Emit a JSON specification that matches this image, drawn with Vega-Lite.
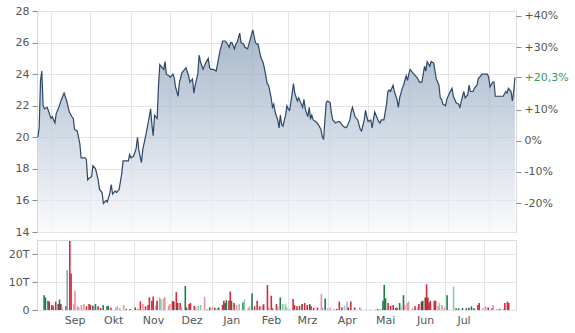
{
  "$schema": "https://vega.github.io/schema/vega-lite/v6.json",
  "padding": {"left": 7, "top": 4, "right": 0, "bottom": 0},
  "spacing": 1,
  "config": {
    "view": {"stroke": "#d6d9dd"},
    "axis": {"labelFont": "DejaVu Sans", "labelFontSize": 11, "labelColor": "#555555", "gridColor": "#e2e4e7", "tickColor": "#8a8a8a", "tickSize": 5, "labelPadding": 3, "domain": false, "title": null}
  },
  "datasets": {
    "price": [
      {"t": "2022-08-22", "p": 20.0}, {"t": "2022-08-23", "p": 20.6}, {"t": "2022-08-24", "p": 23.6}, {"t": "2022-08-25", "p": 24.2}, {"t": "2022-08-26", "p": 22.0}, {"t": "2022-08-27", "p": 21.8}, {"t": "2022-08-29", "p": 21.9}, {"t": "2022-08-30", "p": 21.7},
      {"t": "2022-09-01", "p": 21.2}, {"t": "2022-09-02", "p": 21.3}, {"t": "2022-09-04", "p": 20.9}, {"t": "2022-09-05", "p": 21.5}, {"t": "2022-09-07", "p": 21.9}, {"t": "2022-09-09", "p": 22.4}, {"t": "2022-09-11", "p": 22.8}, {"t": "2022-09-13", "p": 22.3}, {"t": "2022-09-15", "p": 21.6}, {"t": "2022-09-17", "p": 21.3}, {"t": "2022-09-18", "p": 21.2}, {"t": "2022-09-19", "p": 20.5}, {"t": "2022-09-21", "p": 20.4}, {"t": "2022-09-23", "p": 19.6}, {"t": "2022-09-24", "p": 18.7}, {"t": "2022-09-25", "p": 18.7}, {"t": "2022-09-27", "p": 18.7}, {"t": "2022-09-28", "p": 18.6}, {"t": "2022-09-29", "p": 17.3}, {"t": "2022-09-30", "p": 17.4},
      {"t": "2022-10-02", "p": 17.5}, {"t": "2022-10-03", "p": 18.2}, {"t": "2022-10-05", "p": 18.0}, {"t": "2022-10-07", "p": 17.3}, {"t": "2022-10-08", "p": 16.7}, {"t": "2022-10-10", "p": 16.5}, {"t": "2022-10-11", "p": 15.8}, {"t": "2022-10-13", "p": 16.0}, {"t": "2022-10-14", "p": 15.9}, {"t": "2022-10-16", "p": 16.5}, {"t": "2022-10-17", "p": 17.0}, {"t": "2022-10-18", "p": 16.4}, {"t": "2022-10-20", "p": 16.6}, {"t": "2022-10-21", "p": 16.5}, {"t": "2022-10-23", "p": 16.7}, {"t": "2022-10-25", "p": 17.7}, {"t": "2022-10-26", "p": 18.5}, {"t": "2022-10-28", "p": 18.5}, {"t": "2022-10-30", "p": 18.5}, {"t": "2022-10-31", "p": 18.9},
      {"t": "2022-11-01", "p": 18.7}, {"t": "2022-11-03", "p": 18.8}, {"t": "2022-11-05", "p": 19.3}, {"t": "2022-11-06", "p": 20.0}, {"t": "2022-11-07", "p": 19.2}, {"t": "2022-11-09", "p": 18.4}, {"t": "2022-11-10", "p": 19.2}, {"t": "2022-11-12", "p": 20.0}, {"t": "2022-11-13", "p": 20.4}, {"t": "2022-11-15", "p": 21.3}, {"t": "2022-11-16", "p": 21.8}, {"t": "2022-11-17", "p": 20.8}, {"t": "2022-11-18", "p": 20.1}, {"t": "2022-11-19", "p": 21.4}, {"t": "2022-11-20", "p": 21.3}, {"t": "2022-11-21", "p": 21.2}, {"t": "2022-11-22", "p": 23.2}, {"t": "2022-11-23", "p": 24.6}, {"t": "2022-11-25", "p": 24.4}, {"t": "2022-11-26", "p": 24.3}, {"t": "2022-11-27", "p": 24.8}, {"t": "2022-11-28", "p": 24.0}, {"t": "2022-11-30", "p": 23.9},
      {"t": "2022-12-01", "p": 23.8}, {"t": "2022-12-03", "p": 24.0}, {"t": "2022-12-04", "p": 23.8}, {"t": "2022-12-05", "p": 23.2}, {"t": "2022-12-07", "p": 22.6}, {"t": "2022-12-08", "p": 23.5}, {"t": "2022-12-10", "p": 24.1}, {"t": "2022-12-12", "p": 24.3}, {"t": "2022-12-13", "p": 24.4}, {"t": "2022-12-15", "p": 23.9}, {"t": "2022-12-16", "p": 23.5}, {"t": "2022-12-18", "p": 23.7}, {"t": "2022-12-19", "p": 22.8}, {"t": "2022-12-20", "p": 23.3}, {"t": "2022-12-22", "p": 24.0}, {"t": "2022-12-23", "p": 25.2}, {"t": "2022-12-24", "p": 24.8}, {"t": "2022-12-26", "p": 24.3}, {"t": "2022-12-28", "p": 24.7}, {"t": "2022-12-30", "p": 25.0}, {"t": "2022-12-31", "p": 24.4},
      {"t": "2023-01-01", "p": 24.3}, {"t": "2023-01-03", "p": 24.3}, {"t": "2023-01-05", "p": 24.2}, {"t": "2023-01-06", "p": 24.6}, {"t": "2023-01-08", "p": 25.5}, {"t": "2023-01-10", "p": 26.1}, {"t": "2023-01-12", "p": 26.1}, {"t": "2023-01-13", "p": 26.0}, {"t": "2023-01-15", "p": 25.7}, {"t": "2023-01-16", "p": 26.0}, {"t": "2023-01-17", "p": 26.0}, {"t": "2023-01-19", "p": 25.6}, {"t": "2023-01-20", "p": 25.9}, {"t": "2023-01-21", "p": 26.0}, {"t": "2023-01-23", "p": 26.6}, {"t": "2023-01-24", "p": 26.0}, {"t": "2023-01-26", "p": 25.9}, {"t": "2023-01-27", "p": 25.7}, {"t": "2023-01-29", "p": 25.6}, {"t": "2023-01-31", "p": 26.2},
      {"t": "2023-02-02", "p": 26.8}, {"t": "2023-02-04", "p": 26.0}, {"t": "2023-02-05", "p": 25.9}, {"t": "2023-02-06", "p": 25.9}, {"t": "2023-02-08", "p": 25.1}, {"t": "2023-02-10", "p": 24.7}, {"t": "2023-02-11", "p": 24.3}, {"t": "2023-02-13", "p": 23.4}, {"t": "2023-02-14", "p": 23.3}, {"t": "2023-02-16", "p": 22.5}, {"t": "2023-02-17", "p": 21.9}, {"t": "2023-02-18", "p": 22.1}, {"t": "2023-02-19", "p": 21.6}, {"t": "2023-02-21", "p": 21.1}, {"t": "2023-02-22", "p": 20.6}, {"t": "2023-02-23", "p": 21.4}, {"t": "2023-02-24", "p": 20.8}, {"t": "2023-02-25", "p": 20.7}, {"t": "2023-02-27", "p": 21.4}, {"t": "2023-02-28", "p": 22.0},
      {"t": "2023-03-01", "p": 21.8}, {"t": "2023-03-02", "p": 21.7}, {"t": "2023-03-03", "p": 22.2}, {"t": "2023-03-05", "p": 23.4}, {"t": "2023-03-06", "p": 22.8}, {"t": "2023-03-08", "p": 22.3}, {"t": "2023-03-09", "p": 22.5}, {"t": "2023-03-11", "p": 22.1}, {"t": "2023-03-12", "p": 21.9}, {"t": "2023-03-13", "p": 22.4}, {"t": "2023-03-14", "p": 21.8}, {"t": "2023-03-16", "p": 21.3}, {"t": "2023-03-17", "p": 21.9}, {"t": "2023-03-18", "p": 21.2}, {"t": "2023-03-19", "p": 21.4}, {"t": "2023-03-20", "p": 21.1}, {"t": "2023-03-22", "p": 21.0}, {"t": "2023-03-24", "p": 20.8}, {"t": "2023-03-26", "p": 20.5}, {"t": "2023-03-27", "p": 20.0}, {"t": "2023-03-28", "p": 19.9}, {"t": "2023-03-29", "p": 21.1}, {"t": "2023-03-30", "p": 22.2}, {"t": "2023-03-31", "p": 22.3},
      {"t": "2023-04-02", "p": 22.2}, {"t": "2023-04-03", "p": 21.5}, {"t": "2023-04-04", "p": 21.1}, {"t": "2023-04-06", "p": 20.9}, {"t": "2023-04-08", "p": 21.0}, {"t": "2023-04-09", "p": 21.0}, {"t": "2023-04-11", "p": 20.8}, {"t": "2023-04-12", "p": 20.7}, {"t": "2023-04-14", "p": 20.6}, {"t": "2023-04-15", "p": 20.7}, {"t": "2023-04-17", "p": 21.1}, {"t": "2023-04-18", "p": 21.6}, {"t": "2023-04-19", "p": 21.9}, {"t": "2023-04-21", "p": 21.3}, {"t": "2023-04-23", "p": 21.1}, {"t": "2023-04-24", "p": 20.8}, {"t": "2023-04-25", "p": 20.5}, {"t": "2023-04-26", "p": 20.4}, {"t": "2023-04-28", "p": 21.1}, {"t": "2023-04-29", "p": 21.7}, {"t": "2023-04-30", "p": 21.3},
      {"t": "2023-05-01", "p": 21.0}, {"t": "2023-05-03", "p": 21.1}, {"t": "2023-05-04", "p": 20.6}, {"t": "2023-05-06", "p": 21.6}, {"t": "2023-05-07", "p": 21.4}, {"t": "2023-05-09", "p": 21.0}, {"t": "2023-05-10", "p": 20.9}, {"t": "2023-05-11", "p": 21.1}, {"t": "2023-05-13", "p": 21.1}, {"t": "2023-05-15", "p": 22.1}, {"t": "2023-05-16", "p": 22.9}, {"t": "2023-05-17", "p": 23.0}, {"t": "2023-05-18", "p": 22.9}, {"t": "2023-05-20", "p": 23.3}, {"t": "2023-05-21", "p": 22.9}, {"t": "2023-05-23", "p": 22.4}, {"t": "2023-05-24", "p": 21.9}, {"t": "2023-05-25", "p": 22.5}, {"t": "2023-05-27", "p": 23.1}, {"t": "2023-05-28", "p": 23.3}, {"t": "2023-05-30", "p": 23.9}, {"t": "2023-05-31", "p": 23.6},
      {"t": "2023-06-01", "p": 24.0}, {"t": "2023-06-02", "p": 24.3}, {"t": "2023-06-04", "p": 24.1}, {"t": "2023-06-06", "p": 23.9}, {"t": "2023-06-08", "p": 23.7}, {"t": "2023-06-09", "p": 23.5}, {"t": "2023-06-11", "p": 23.5}, {"t": "2023-06-13", "p": 24.5}, {"t": "2023-06-14", "p": 24.2}, {"t": "2023-06-15", "p": 24.8}, {"t": "2023-06-17", "p": 24.5}, {"t": "2023-06-18", "p": 24.8}, {"t": "2023-06-20", "p": 24.7}, {"t": "2023-06-21", "p": 24.2}, {"t": "2023-06-22", "p": 23.7}, {"t": "2023-06-24", "p": 23.3}, {"t": "2023-06-25", "p": 22.5}, {"t": "2023-06-26", "p": 22.4}, {"t": "2023-06-27", "p": 22.1}, {"t": "2023-06-29", "p": 22.0}, {"t": "2023-06-30", "p": 22.4},
      {"t": "2023-07-02", "p": 22.8}, {"t": "2023-07-04", "p": 23.1}, {"t": "2023-07-05", "p": 22.6}, {"t": "2023-07-07", "p": 22.2}, {"t": "2023-07-09", "p": 22.1}, {"t": "2023-07-10", "p": 21.9}, {"t": "2023-07-12", "p": 22.6}, {"t": "2023-07-13", "p": 22.9}, {"t": "2023-07-14", "p": 22.5}, {"t": "2023-07-16", "p": 22.7}, {"t": "2023-07-17", "p": 23.3}, {"t": "2023-07-18", "p": 22.9}, {"t": "2023-07-20", "p": 22.9}, {"t": "2023-07-21", "p": 23.1}, {"t": "2023-07-23", "p": 23.3}, {"t": "2023-07-24", "p": 23.7}, {"t": "2023-07-26", "p": 23.9}, {"t": "2023-07-27", "p": 24.0}, {"t": "2023-07-29", "p": 24.0}, {"t": "2023-07-31", "p": 24.0},
      {"t": "2023-08-01", "p": 23.8}, {"t": "2023-08-02", "p": 23.2}, {"t": "2023-08-04", "p": 23.5}, {"t": "2023-08-05", "p": 23.5}, {"t": "2023-08-06", "p": 22.6}, {"t": "2023-08-08", "p": 22.6}, {"t": "2023-08-10", "p": 22.6}, {"t": "2023-08-12", "p": 22.6}, {"t": "2023-08-14", "p": 22.9}, {"t": "2023-08-15", "p": 22.8}, {"t": "2023-08-16", "p": 23.1}, {"t": "2023-08-18", "p": 22.9}, {"t": "2023-08-19", "p": 22.3}, {"t": "2023-08-20", "p": 22.9}, {"t": "2023-08-21", "p": 23.8}
    ],
    "vol": [
      {"t": "2022-08-23", "v": 5.3, "c": "g"}, {"t": "2022-08-24", "v": 4.5, "c": "g"}, {"t": "2022-08-26", "v": 3.3, "c": "r"}, {"t": "2022-08-27", "v": 3.0, "c": "d"}, {"t": "2022-08-29", "v": 1.8, "c": "g"}, {"t": "2022-08-30", "v": 1.5, "c": "r"},
      {"t": "2022-09-01", "v": 3.0, "c": "r"}, {"t": "2022-09-03", "v": 2.1, "c": "d"}, {"t": "2022-09-04", "v": 3.7, "c": "g"}, {"t": "2022-09-05", "v": 2.1, "c": "d"}, {"t": "2022-09-06", "v": 0.9, "c": "p"}, {"t": "2022-09-09", "v": 1.3, "c": "g"}, {"t": "2022-09-10", "v": 14.2, "c": "b"}, {"t": "2022-09-12", "v": 24.6, "c": "r"}, {"t": "2022-09-13", "v": 13.0, "c": "r"}, {"t": "2022-09-15", "v": 2.1, "c": "p"}, {"t": "2022-09-16", "v": 6.9, "c": "p"}, {"t": "2022-09-18", "v": 1.3, "c": "p"}, {"t": "2022-09-19", "v": 0.9, "c": "p"}, {"t": "2022-09-21", "v": 1.8, "c": "p"}, {"t": "2022-09-23", "v": 2.1, "c": "p"}, {"t": "2022-09-25", "v": 1.3, "c": "r"}, {"t": "2022-09-27", "v": 2.1, "c": "r"}, {"t": "2022-09-28", "v": 1.8, "c": "r"}, {"t": "2022-09-30", "v": 1.5, "c": "d"},
      {"t": "2022-10-02", "v": 2.1, "c": "g"}, {"t": "2022-10-04", "v": 1.3, "c": "r"}, {"t": "2022-10-06", "v": 0.7, "c": "r"}, {"t": "2022-10-08", "v": 1.8, "c": "g"}, {"t": "2022-10-11", "v": 1.3, "c": "g"}, {"t": "2022-10-12", "v": 1.5, "c": "g"}, {"t": "2022-10-14", "v": 0.8, "c": "r"}, {"t": "2022-10-18", "v": 0.9, "c": "p"}, {"t": "2022-10-19", "v": 1.3, "c": "lg"}, {"t": "2022-10-21", "v": 0.6, "c": "p"}, {"t": "2022-10-24", "v": 1.8, "c": "p"}, {"t": "2022-10-26", "v": 0.4, "c": "g"}, {"t": "2022-10-29", "v": 0.4, "c": "r"},
      {"t": "2022-11-02", "v": 0.9, "c": "r"}, {"t": "2022-11-04", "v": 0.3, "c": "d"}, {"t": "2022-11-06", "v": 3.1, "c": "r"}, {"t": "2022-11-08", "v": 2.1, "c": "p"}, {"t": "2022-11-10", "v": 1.3, "c": "r"}, {"t": "2022-11-12", "v": 1.8, "c": "r"}, {"t": "2022-11-13", "v": 4.5, "c": "r"}, {"t": "2022-11-15", "v": 3.3, "c": "d"}, {"t": "2022-11-16", "v": 4.8, "c": "r"}, {"t": "2022-11-18", "v": 1.8, "c": "p"}, {"t": "2022-11-19", "v": 3.3, "c": "r"}, {"t": "2022-11-21", "v": 4.5, "c": "p"}, {"t": "2022-11-22", "v": 3.9, "c": "lg"}, {"t": "2022-11-24", "v": 4.1, "c": "lg"}, {"t": "2022-11-25", "v": 4.5, "c": "p"}, {"t": "2022-11-28", "v": 1.5, "c": "p"}, {"t": "2022-11-29", "v": 2.1, "c": "p"},
      {"t": "2022-12-01", "v": 3.2, "c": "r"}, {"t": "2022-12-02", "v": 3.0, "c": "d"}, {"t": "2022-12-04", "v": 6.4, "c": "r"}, {"t": "2022-12-05", "v": 2.5, "c": "d"}, {"t": "2022-12-07", "v": 2.5, "c": "r"}, {"t": "2022-12-08", "v": 1.3, "c": "p"}, {"t": "2022-12-11", "v": 8.6, "c": "g"}, {"t": "2022-12-12", "v": 0.9, "c": "g"}, {"t": "2022-12-14", "v": 2.1, "c": "r"}, {"t": "2022-12-15", "v": 2.5, "c": "r"}, {"t": "2022-12-18", "v": 1.5, "c": "r"}, {"t": "2022-12-19", "v": 0.9, "c": "p"}, {"t": "2022-12-21", "v": 1.5, "c": "lg"}, {"t": "2022-12-23", "v": 1.8, "c": "lg"}, {"t": "2022-12-26", "v": 4.7, "c": "p"}, {"t": "2022-12-28", "v": 0.4, "c": "p"}, {"t": "2022-12-30", "v": 0.9, "c": "d"},
      {"t": "2023-01-01", "v": 0.9, "c": "p"}, {"t": "2023-01-03", "v": 0.8, "c": "r"}, {"t": "2023-01-05", "v": 0.7, "c": "p"}, {"t": "2023-01-06", "v": 0.9, "c": "g"}, {"t": "2023-01-09", "v": 1.8, "c": "r"}, {"t": "2023-01-10", "v": 3.3, "c": "r"}, {"t": "2023-01-11", "v": 2.5, "c": "d"}, {"t": "2023-01-12", "v": 3.5, "c": "g"}, {"t": "2023-01-14", "v": 3.3, "c": "r"}, {"t": "2023-01-15", "v": 6.6, "c": "r"}, {"t": "2023-01-16", "v": 3.3, "c": "g"}, {"t": "2023-01-18", "v": 2.5, "c": "r"}, {"t": "2023-01-20", "v": 1.8, "c": "p"}, {"t": "2023-01-22", "v": 2.1, "c": "lg"}, {"t": "2023-01-25", "v": 2.7, "c": "g"}, {"t": "2023-01-26", "v": 3.7, "c": "lg"}, {"t": "2023-01-29", "v": 0.6, "c": "p"}, {"t": "2023-01-30", "v": 1.3, "c": "lg"},
      {"t": "2023-02-01", "v": 5.9, "c": "g"}, {"t": "2023-02-03", "v": 1.3, "c": "r"}, {"t": "2023-02-05", "v": 3.3, "c": "r"}, {"t": "2023-02-07", "v": 1.3, "c": "r"}, {"t": "2023-02-09", "v": 1.5, "c": "p"}, {"t": "2023-02-10", "v": 2.1, "c": "r"}, {"t": "2023-02-13", "v": 8.9, "c": "r"}, {"t": "2023-02-14", "v": 0.9, "c": "p"}, {"t": "2023-02-16", "v": 5.1, "c": "r"}, {"t": "2023-02-17", "v": 0.6, "c": "r"}, {"t": "2023-02-20", "v": 2.1, "c": "r"}, {"t": "2023-02-21", "v": 1.3, "c": "p"}, {"t": "2023-02-23", "v": 4.5, "c": "g"}, {"t": "2023-02-25", "v": 2.1, "c": "lg"}, {"t": "2023-02-27", "v": 2.1, "c": "lg"}, {"t": "2023-02-28", "v": 0.9, "c": "lg"},
      {"t": "2023-03-02", "v": 0.4, "c": "p"}, {"t": "2023-03-05", "v": 3.9, "c": "r"}, {"t": "2023-03-06", "v": 1.8, "c": "r"}, {"t": "2023-03-08", "v": 1.3, "c": "r"}, {"t": "2023-03-10", "v": 1.5, "c": "r"}, {"t": "2023-03-12", "v": 2.1, "c": "d"}, {"t": "2023-03-14", "v": 2.5, "c": "r"}, {"t": "2023-03-16", "v": 1.8, "c": "r"}, {"t": "2023-03-18", "v": 2.1, "c": "d"}, {"t": "2023-03-19", "v": 1.3, "c": "r"}, {"t": "2023-03-21", "v": 0.7, "c": "r"}, {"t": "2023-03-24", "v": 0.9, "c": "r"}, {"t": "2023-03-27", "v": 5.7, "c": "p"}, {"t": "2023-03-28", "v": 0.9, "c": "p"}, {"t": "2023-03-30", "v": 4.1, "c": "g"},
      {"t": "2023-04-01", "v": 0.6, "c": "p"}, {"t": "2023-04-03", "v": 0.9, "c": "p"}, {"t": "2023-04-06", "v": 0.4, "c": "p"}, {"t": "2023-04-08", "v": 0.4, "c": "r"}, {"t": "2023-04-10", "v": 3.0, "c": "r"}, {"t": "2023-04-12", "v": 0.9, "c": "r"}, {"t": "2023-04-14", "v": 1.5, "c": "lb"}, {"t": "2023-04-16", "v": 3.0, "c": "lb"}, {"t": "2023-04-17", "v": 0.9, "c": "d"}, {"t": "2023-04-19", "v": 3.0, "c": "r"}, {"t": "2023-04-22", "v": 0.9, "c": "r"}, {"t": "2023-04-26", "v": 1.1, "c": "p"}, {"t": "2023-04-27", "v": 0.4, "c": "p"},
      {"t": "2023-05-01", "v": 0.2, "c": "p"}, {"t": "2023-05-04", "v": 0.2, "c": "lg"}, {"t": "2023-05-08", "v": 0.2, "c": "lg"}, {"t": "2023-05-10", "v": 0.4, "c": "g"}, {"t": "2023-05-12", "v": 0.4, "c": "lg"}, {"t": "2023-05-14", "v": 3.3, "c": "g"}, {"t": "2023-05-15", "v": 9.0, "c": "g"}, {"t": "2023-05-16", "v": 4.2, "c": "g"}, {"t": "2023-05-18", "v": 2.5, "c": "r"}, {"t": "2023-05-20", "v": 1.5, "c": "r"}, {"t": "2023-05-22", "v": 1.8, "c": "r"}, {"t": "2023-05-24", "v": 0.7, "c": "r"}, {"t": "2023-05-25", "v": 0.9, "c": "r"}, {"t": "2023-05-27", "v": 2.5, "c": "g"}, {"t": "2023-05-28", "v": 1.3, "c": "lg"}, {"t": "2023-05-30", "v": 5.3, "c": "g"}, {"t": "2023-05-31", "v": 1.8, "c": "p"},
      {"t": "2023-06-02", "v": 2.5, "c": "p"}, {"t": "2023-06-03", "v": 3.0, "c": "p"}, {"t": "2023-06-06", "v": 0.6, "c": "p"}, {"t": "2023-06-08", "v": 1.3, "c": "r"}, {"t": "2023-06-10", "v": 0.9, "c": "p"}, {"t": "2023-06-11", "v": 2.1, "c": "r"}, {"t": "2023-06-13", "v": 3.0, "c": "d"}, {"t": "2023-06-14", "v": 3.3, "c": "d"}, {"t": "2023-06-16", "v": 4.5, "c": "d"}, {"t": "2023-06-17", "v": 9.2, "c": "r"}, {"t": "2023-06-18", "v": 4.5, "c": "d"}, {"t": "2023-06-19", "v": 2.7, "c": "r"}, {"t": "2023-06-20", "v": 3.3, "c": "r"}, {"t": "2023-06-23", "v": 3.3, "c": "r"}, {"t": "2023-06-24", "v": 3.3, "c": "r"}, {"t": "2023-06-26", "v": 1.3, "c": "p"}, {"t": "2023-06-27", "v": 2.5, "c": "lg"}, {"t": "2023-06-29", "v": 1.8, "c": "p"},
      {"t": "2023-07-01", "v": 0.9, "c": "p"}, {"t": "2023-07-03", "v": 5.3, "c": "g"}, {"t": "2023-07-08", "v": 8.3, "c": "lg"}, {"t": "2023-07-10", "v": 0.6, "c": "g"}, {"t": "2023-07-12", "v": 0.6, "c": "g"}, {"t": "2023-07-15", "v": 0.7, "c": "g"}, {"t": "2023-07-18", "v": 0.6, "c": "d"}, {"t": "2023-07-20", "v": 0.8, "c": "g"}, {"t": "2023-07-22", "v": 1.3, "c": "g"}, {"t": "2023-07-24", "v": 0.6, "c": "d"}, {"t": "2023-07-27", "v": 1.8, "c": "r"}, {"t": "2023-07-28", "v": 2.5, "c": "r"}, {"t": "2023-07-31", "v": 0.6, "c": "p"},
      {"t": "2023-08-02", "v": 1.3, "c": "p"}, {"t": "2023-08-04", "v": 0.9, "c": "r"}, {"t": "2023-08-07", "v": 0.6, "c": "r"}, {"t": "2023-08-08", "v": 1.8, "c": "p"}, {"t": "2023-08-11", "v": 0.4, "c": "p"}, {"t": "2023-08-13", "v": 0.4, "c": "r"}, {"t": "2023-08-16", "v": 0.4, "c": "p"}, {"t": "2023-08-17", "v": 2.5, "c": "r"}, {"t": "2023-08-19", "v": 3.0, "c": "r"}, {"t": "2023-08-20", "v": 2.5, "c": "r"}
    ],
    "pctaxis": [{"pct": 20.3}]
  },
  "vconcat": [
    {
      "width": 479,
      "height": 221,
      "layer": [
        {
          "data": {"name": "price"},
          "mark": {"type": "area", "line": {"color": "#2c4869", "strokeWidth": 1.2}, "color": {"gradient": "linear", "x1": 0, "y1": 0, "x2": 0, "y2": 1, "stops": [{"offset": 0, "color": "#8199b5"}, {"offset": 1, "color": "#f8f9fb"}]}},
          "encoding": {
            "x": {"field": "t", "type": "temporal", "scale": {"type": "utc", "domain": [{"year": 2022, "month": 8, "date": 21, "hours": 8, "utc": true}, {"year": 2023, "month": 8, "date": 21, "hours": 19, "utc": true}]}, "axis": {"labels": false, "ticks": false, "grid": true, "tickCount": {"interval": "month", "step": 1}}},
            "y": {"field": "p", "type": "quantitative", "stack": null, "scale": {"domain": [14, 28], "zero": false, "nice": false}, "axis": {"values": [14, 16, 18, 20, 22, 24, 26, 28], "orient": "left", "grid": true}}
          }
        },
        {
          "data": {"name": "pctaxis"},
          "mark": {"type": "tick", "opacity": 0},
          "encoding": {
            "y": {"field": "pct", "type": "quantitative", "scale": {"domain": [-29.22, 41.56], "zero": false, "nice": false}, "axis": {"orient": "right", "grid": false, "values": [-20, -10, 0, 10, 20.3, 30, 40], "labelExpr": "(datum.value > 0 ? '+' : '') + replace(toString(datum.value), '.', ',') + '%'", "labelColor": {"condition": {"test": "datum.value == 20.3", "value": "#2f9a5c"}, "value": "#555555"}}}
          }
        }
      ],
      "resolve": {"scale": {"y": "independent"}, "axis": {"y": "independent"}}
    },
    {
      "width": 479,
      "height": 70,
      "data": {"name": "vol"},
      "mark": {"type": "bar", "size": 1.6},
      "encoding": {
        "x": {"field": "t", "type": "temporal", "scale": {"type": "utc", "domain": [{"year": 2022, "month": 8, "date": 21, "hours": 8, "utc": true}, {"year": 2023, "month": 8, "date": 21, "hours": 19, "utc": true}]}, "axis": {"grid": true, "ticks": false, "tickCount": {"interval": "month", "step": 1}, "labelOffset": 19, "labelAlign": "center", "labelOverlap": false, "labelPadding": 4, "labelExpr": "['Jan','Feb','Mrz','Apr','Mai','Jun','Jul','','Sep','Okt','Nov','Dez'][utcmonth(datum.value)]"}},
        "y": {"field": "v", "type": "quantitative", "scale": {"domain": [0, 25], "nice": false}, "axis": {"values": [0, 10, 20], "labelExpr": "datum.value == 0 ? '0' : datum.value + 'T'"}},
        "color": {"field": "c", "type": "nominal", "legend": null, "scale": {"domain": ["g", "r", "p", "lg", "d", "b", "lb"], "range": ["#1a8048", "#d8283c", "#f0909e", "#8cc9a4", "#5e4b3b", "#8aa1bb", "#a9bdd2"]}}
      }
    }
  ]
}
